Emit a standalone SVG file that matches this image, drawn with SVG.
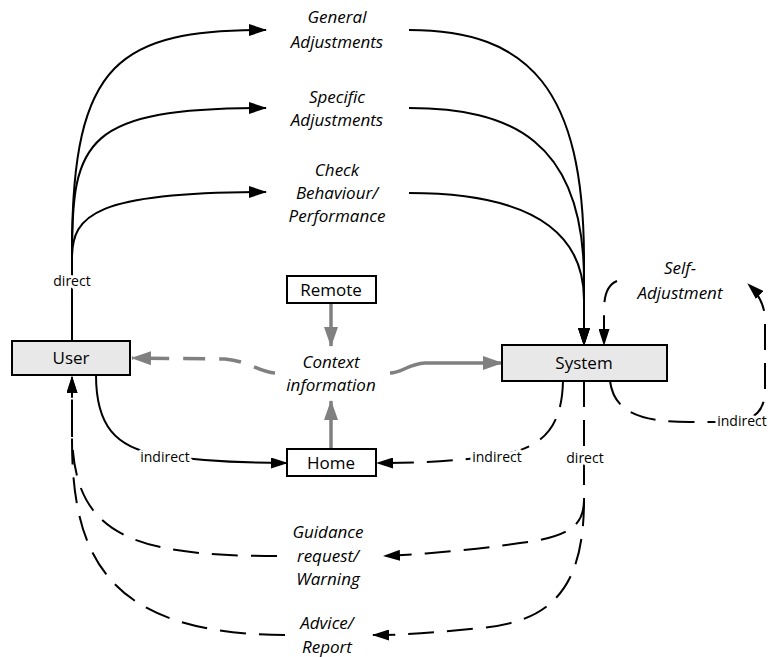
<svg xmlns="http://www.w3.org/2000/svg" width="768" height="657" viewBox="0 0 768 657">
  <style>
    .box { stroke: #000; stroke-width: 2; }
    .shaded { fill: #e8e8e8; }
    .plain { fill: #fff; }
    .name { font-family: "Open Sans", "Liberation Sans", sans-serif; font-size: 17px; fill: #000; text-anchor: middle; }
    .topic { font-family: "Open Sans", "Liberation Sans", sans-serif; font-size: 17px; font-style: italic; fill: #000; text-anchor: middle; }
    .tag { font-family: "Open Sans", "Liberation Sans", sans-serif; font-size: 14px; fill: #000; text-anchor: middle; stroke: #fff; stroke-width: 6; stroke-linejoin: round; paint-order: stroke; }
    .solid { fill: none; stroke: #000; stroke-width: 2; }
    .dashed { fill: none; stroke: #000; stroke-width: 2; stroke-dasharray: 26 13; }
    .grey { fill: none; stroke: #808080; stroke-width: 3.5; }
    .grey-dashed { fill: none; stroke: #808080; stroke-width: 3.5; stroke-dasharray: 22 14; }
  </style>
  <defs>
    <marker id="arrow" viewBox="0 0 18 12" refX="17" refY="6" markerWidth="18" markerHeight="12" markerUnits="userSpaceOnUse" orient="auto">
      <path d="M0,0 L18,6 L0,12 z" fill="#000"/>
    </marker>
    <marker id="arrow-small" viewBox="0 0 17 11" refX="16" refY="5.5" markerWidth="17" markerHeight="11" markerUnits="userSpaceOnUse" orient="auto">
      <path d="M0,0 L17,5.5 L0,11 z" fill="#000"/>
    </marker>
    <marker id="arrow-grey" viewBox="0 0 20 14" refX="19" refY="7" markerWidth="20" markerHeight="14" markerUnits="userSpaceOnUse" orient="auto">
      <path d="M0,0 L20,7 L0,14 z" fill="#808080"/>
    </marker>
  </defs>

  <g id="connectors">
    <!-- User: direct adjustments -->
    <path class="solid" d="M72,341 L72,250 C72,60 120,30 266,30" marker-end="url(#arrow)"/>
    <path class="solid" d="M72,255 C72,140 85,108 266,108" marker-end="url(#arrow)"/>
    <path class="solid" d="M72,258 C72,215 95,192 266,192" marker-end="url(#arrow)"/>
    <!-- adjustments into System -->
    <path class="solid" d="M409,30 C530,30 584,90 584,260 L584,345" marker-end="url(#arrow)"/>
    <path class="solid" d="M409,108 C510,108 584,140 584,280 L584,345" marker-end="url(#arrow)"/>
    <path class="solid" d="M409,193 C500,193 584,215 584,300 L584,345" marker-end="url(#arrow)"/>

    <!-- context information -->
    <path class="grey" d="M331,303 L331,346" marker-end="url(#arrow-grey)"/>
    <path class="grey" d="M331,449 L331,401" marker-end="url(#arrow-grey)"/>
    <path class="grey-dashed" d="M275,373 C258,372 252,362 225,359 L132,358" marker-end="url(#arrow-grey)"/>
    <path class="grey" d="M390,373 C402,373 408,364 425,363 L502,363" marker-end="url(#arrow-grey)"/>

    <!-- User indirect to Home -->
    <path class="solid" d="M96,375 C96,425 115,448 160,455 C200,461 240,463 287,463" marker-end="url(#arrow-small)"/>
    <!-- System indirect to Home -->
    <path class="dashed" d="M563,381 C562,425 545,448 500,455 C460,461 420,463 377,463" marker-end="url(#arrow-small)"/>

    <!-- System direct feedback -->
    <path class="dashed" d="M584,381 L584,500"/>
    <path class="dashed" d="M584,500 C584,525 570,537 520,543 C480,549 430,554 384,556" marker-end="url(#arrow-small)"/>
    <path class="dashed" d="M584,500 C584,590 550,622 480,628 C440,632 410,635 373,635" marker-end="url(#arrow-small)"/>

    <!-- feedback reaching the User -->
    <path class="dashed" d="M277,556 C130,556 72,535 72,430 L72,377" marker-end="url(#arrow-small)"/>
    <path class="dashed" d="M285,635 C110,634 72,560 72,440 L72,377" marker-end="url(#arrow-small)"/>

    <!-- self-adjustment loop -->
    <path class="dashed" d="M610,381 C614,412 640,422 690,422 L730,422 C755,422 765,410 765,390 L765,320 Q765,300 748,284" marker-end="url(#arrow-small)"/>
    <path class="dashed" d="M617,281 C607,285 604,295 604,312 L604,345" marker-end="url(#arrow-small)"/>

    <!-- connector labels -->
    <text class="tag" x="72" y="286">direct</text>
    <text class="tag" x="165" y="462">indirect</text>
    <text class="tag" x="497" y="462">indirect</text>
    <text class="tag" x="585" y="463">direct</text>
    <text class="tag" x="742" y="426">indirect</text>
  </g>

  <g id="user">
    <rect class="box shaded" x="12" y="341" width="118" height="34"/>
    <text class="name" x="71" y="364">User</text>
  </g>
  <g id="system">
    <rect class="box shaded" x="502" y="345" width="165" height="36"/>
    <text class="name" x="584" y="369">System</text>
  </g>
  <g id="remote">
    <rect class="box plain" x="287" y="276" width="89" height="27"/>
    <text class="name" x="331" y="296">Remote</text>
  </g>
  <g id="home">
    <rect class="box plain" x="287" y="449" width="89" height="27"/>
    <text class="name" x="331" y="469">Home</text>
  </g>

  <g id="general-adjustments">
    <text class="topic" x="337" y="23">General</text>
    <text class="topic" x="337" y="48">Adjustments</text>
  </g>
  <g id="specific-adjustments">
    <text class="topic" x="337" y="103">Specific</text>
    <text class="topic" x="337" y="126">Adjustments</text>
  </g>
  <g id="check-behaviour">
    <text class="topic" x="337" y="176">Check</text>
    <text class="topic" x="337" y="199">Behaviour/</text>
    <text class="topic" x="337" y="222">Performance</text>
  </g>
  <g id="context-information">
    <text class="topic" x="331" y="368">Context</text>
    <text class="topic" x="331" y="391">information</text>
  </g>
  <g id="self-adjustment">
    <text class="topic" x="680" y="274">Self-</text>
    <text class="topic" x="680" y="299">Adjustment</text>
  </g>
  <g id="guidance">
    <text class="topic" x="328" y="538">Guidance</text>
    <text class="topic" x="328" y="562">request/</text>
    <text class="topic" x="328" y="585">Warning</text>
  </g>
  <g id="advice">
    <text class="topic" x="327" y="629">Advice/</text>
    <text class="topic" x="327" y="653">Report</text>
  </g>
</svg>
